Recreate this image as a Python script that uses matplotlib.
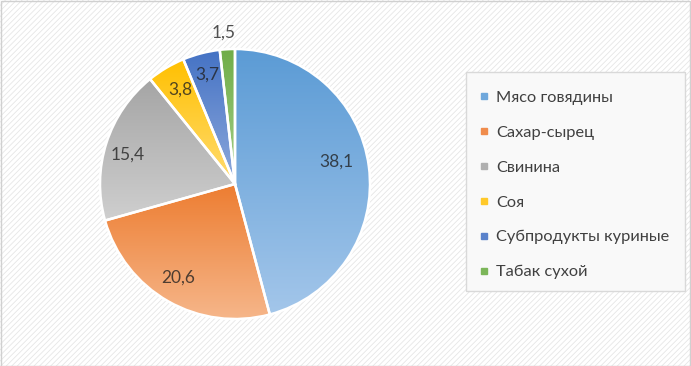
import numpy as np
import matplotlib
matplotlib.use("Agg")
import matplotlib.pyplot as plt
from matplotlib.patches import Rectangle
from matplotlib.lines import Line2D
from matplotlib.colors import to_rgb

categories = ["Мясо говядины", "Сахар-сырец", "Свинина", "Соя",
              "Субпродукты куриные", "Табак сухой"]
values = [38.1, 20.6, 15.4, 3.8, 3.7, 1.5]
value_labels = ["38,1", "20,6", "15,4", "3,8", "3,7", "1,5"]

top_colors = ["#5b9bd5", "#ed7d31", "#a5a5a5", "#ffc000", "#4472c4", "#70ad47"]
bot_colors = ["#a3c6ea", "#f6b88d", "#cfcfcf", "#ffdc73", "#8ea9dc", "#a5cf8a"]
mid_colors = ["#6fa8dc", "#f08c4c", "#b0b0b0", "#ffc92a", "#5a82cb", "#7cb659"]
label_r = [0.766, 0.814, 0.822, 0.806, 0.832, 1.122]
label_dang = [4.8, -1.5, 2.4, -0.9, -0.5, 0.9]

plt.rcParams['font.family'] = ['Lato', 'DejaVu Sans']
fig = plt.figure(figsize=(6.91, 3.66), dpi=100)

# background with hatch
bg = fig.add_axes([0, 0, 1, 1], zorder=-10)
bg.set_xlim(0, 1); bg.set_ylim(0, 1); bg.axis('off')
plt.rcParams['hatch.linewidth'] = 0.6
bg.add_patch(Rectangle((0, 0), 1, 1, facecolor='white', edgecolor='#e6e6e6',
                       hatch='//////', lw=0, transform=bg.transAxes))
bg.add_patch(Rectangle((0.5 / 691, 0.5 / 366), 1 - 1.5 / 691, 1 - 1.5 / 366,
                       facecolor='none', edgecolor='#d0d0d0', lw=1,
                       transform=bg.transAxes))
# legend box
lx0, lx1, ly0, ly1 = 466, 685, 72, 291
bg.add_patch(Rectangle((lx0 / 691, 1 - ly1 / 366), (lx1 - lx0) / 691, (ly1 - ly0) / 366,
                       facecolor='#f9f9f9', edgecolor='#d9d9d9', lw=1,
                       transform=bg.transAxes))

ax = fig.add_axes([100 / 691, 1 - 319 / 366, 270 / 691, 270 / 366])
wedges, _ = ax.pie(values, startangle=90, counterclock=False, radius=1,
                   colors=top_colors,
                   wedgeprops=dict(edgecolor='white', linewidth=1.8))
ax.set_xlim(-1, 1); ax.set_ylim(-1, 1)
ax.set_aspect('auto')

# vertical gradient fill per wedge
for w, c1, c2 in zip(wedges, top_colors, bot_colors):
    path = w.get_path()
    verts = w.get_patch_transform().transform(path.vertices)
    ymin, ymax = verts[:, 1].min(), verts[:, 1].max()
    xmin, xmax = verts[:, 0].min(), verts[:, 0].max()
    a = np.array(to_rgb(c1)); b = np.array(to_rgb(c2))
    t = np.linspace(0, 1, 256)[:, None]
    grad = (a[None, :] * (1 - t) + b[None, :] * t)[:, None, :]
    im = ax.imshow(grad, extent=[xmin, xmax, ymin, ymax], origin='upper',
                   aspect='auto', zorder=w.get_zorder() - 0.05)
    im.set_clip_path(w)
    w.set_facecolor('none')
    w.set_zorder(w.get_zorder() + 0.2)
ax.set_xlim(-1, 1); ax.set_ylim(-1, 1)
ax.axis('off')

total = sum(values)
cum = 0
for v, lab, r, da in zip(values, value_labels, label_r, label_dang):
    mid = 90 - (cum + v / 2) / total * 360 + da
    cum += v
    ang = np.deg2rad(mid)
    ax.text(r * np.cos(ang), r * np.sin(ang), lab, ha='center', va='center',
            fontsize=12.5, color='#202020', alpha=0.78, zorder=10)

handles = [Line2D([0], [0], marker='s', linestyle='none', markersize=5,
                  markerfacecolor=c, markeredgecolor=c) for c in mid_colors]
fig.legend(handles, categories, loc='upper left',
           bbox_to_anchor=(471 / 691, 1 - 82 / 366), frameon=False,
           fontsize=11.8, labelcolor='#404040', labelspacing=1.25,
           handlelength=0.6, handletextpad=0.45, borderpad=0)

fig.savefig("out.png", dpi=100)
